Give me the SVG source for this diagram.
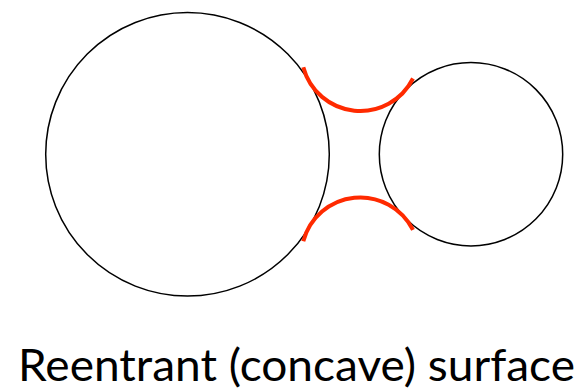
<svg xmlns="http://www.w3.org/2000/svg" width="583" height="390" viewBox="0 0 583 390">
<style>
.atom{fill:none;stroke:#000;stroke-width:1.5}
.re{fill:none;stroke:#ff2a00;stroke-width:4;stroke-linecap:butt}
.lbl{font-family:Lato,"Open Sans","Liberation Sans",sans-serif;font-size:44px;fill:#000}
</style>
<rect width="583" height="390" fill="#fff"/>
<g id="atom-large"><circle class="atom" cx="187.5" cy="154.3" r="141.8"/></g>
<g id="atom-small"><circle class="atom" cx="471" cy="154.2" r="91.7"/></g>
<g id="reentrant">
<path class="re" d="M303.3,67.2 A59,59 0 0 0 413,78.5"/>
<path class="re" d="M303.3,241.2 A59,59 0 0 1 413,229.9"/>
</g>
<text class="lbl" x="18" y="381" textLength="557" lengthAdjust="spacingAndGlyphs">Reentrant (concave) surface</text>
</svg>
